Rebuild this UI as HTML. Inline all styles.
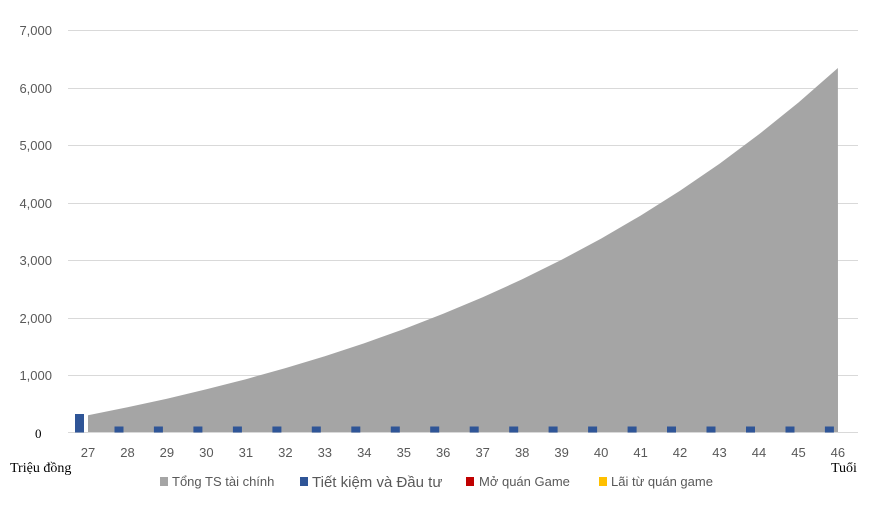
<!DOCTYPE html>
<html><head><meta charset="utf-8"><style>
body{margin:0;background:#fff;}
.s{font-family:"Liberation Sans",sans-serif;}
.r{font-family:"Liberation Serif",serif;}
</style></head><body>
<svg id="s" width="872" height="501" xmlns="http://www.w3.org/2000/svg">
<g stroke="#d9d9d9" stroke-width="1">
<line x1="68" x2="858" y1="30.5" y2="30.5"/><line x1="68" x2="858" y1="88.5" y2="88.5"/>
<line x1="68" x2="858" y1="145.5" y2="145.5"/><line x1="68" x2="858" y1="203.5" y2="203.5"/>
<line x1="68" x2="858" y1="260.5" y2="260.5"/><line x1="68" x2="858" y1="318.5" y2="318.5"/>
<line x1="68" x2="858" y1="375.5" y2="375.5"/>
</g>
<g class="s" font-size="13" fill="#595959" text-anchor="end">
<text x="52" y="35">7,000</text><text x="52" y="93">6,000</text><text x="52" y="150">5,000</text>
<text x="52" y="208">4,000</text><text x="52" y="265">3,000</text><text x="52" y="323">2,000</text>
<text x="52" y="380">1,000</text>
</g>
<text class="r" x="35" y="438" font-size="13" fill="#000">0</text>
<path id="area" fill="#a5a5a5"/>
<line x1="68" x2="858" y1="432.5" y2="432.5" stroke="#d9d9d9"/>
<g id="bars" fill="#2f5597"></g>
<g id="xl" class="s" font-size="13" fill="#595959" text-anchor="middle"></g>
<text class="r" x="10" y="472" font-size="14" fill="#000">Triệu đồng</text>
<text class="r" x="831" y="472" font-size="14" fill="#000">Tuổi</text>
<rect x="160" y="477" width="8" height="9" fill="#a5a5a5"/>
<text class="s" x="172" y="486" font-size="13" fill="#595959">Tổng TS tài chính</text>
<rect x="300" y="477" width="8" height="9" fill="#2f5597"/>
<text class="s" x="312" y="487" font-size="15" fill="#595959">Tiết kiệm và Đầu tư</text>
<rect x="466" y="477" width="8" height="9" fill="#c00000"/>
<text class="s" x="479" y="486" font-size="13" fill="#595959">Mở quán Game</text>
<rect x="599" y="477" width="8" height="9" fill="#ffc000"/>
<text class="s" x="611" y="486" font-size="13" fill="#595959">Lãi từ quán game</text>
</svg>
<script>
var v=300,d="M88,432.5",bars="",xl="";
for(var n=0;n<20;n++){
 var x=88+n*39.47,y=432.5-v*0.05743;
 d+=" L"+x.toFixed(1)+","+y.toFixed(1);
 var bh=n==0?18.5:6;
 bars+='<rect x="'+(x-13).toFixed(1)+'" y="'+(432.5-bh)+'" width="9" height="'+bh+'"/>';
 xl+='<text x="'+x.toFixed(1)+'" y="457">'+(27+n)+'</text>';
 v=v*1.085+113;
}
d+=" L838,432.5 Z";
document.getElementById("area").setAttribute("d",d);
document.getElementById("bars").innerHTML=bars;
document.getElementById("xl").innerHTML=xl;
</script>
</body></html>
